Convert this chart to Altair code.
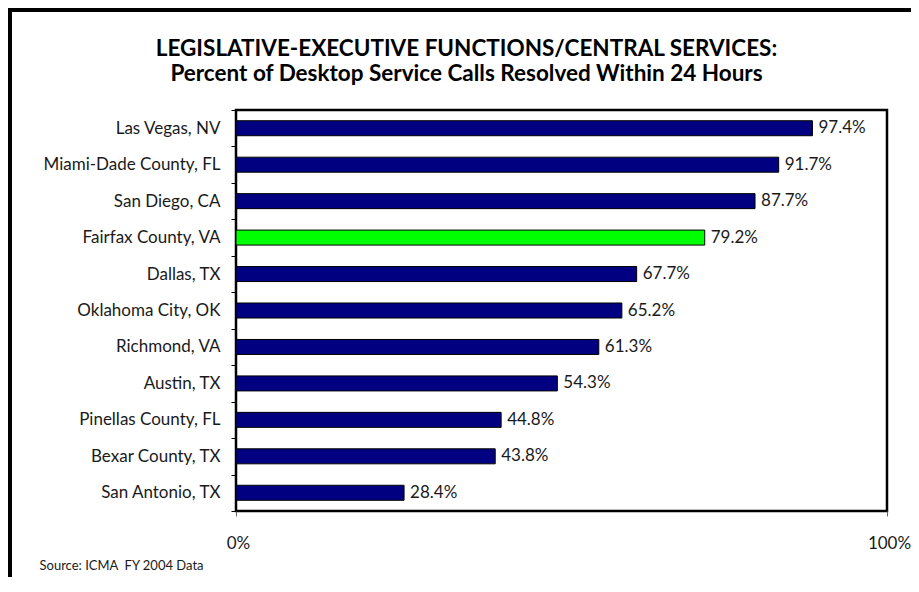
import altair as alt
import pandas as pd

cities = ["Las Vegas, NV", "Miami-Dade County, FL", "San Diego, CA", "Fairfax County, VA",
          "Dallas, TX", "Oklahoma City, OK", "Richmond, VA", "Austin, TX",
          "Pinellas County, FL", "Bexar County, TX", "San Antonio, TX"]
values = [97.4, 91.7, 87.7, 79.2, 67.7, 65.2, 61.3, 54.3, 44.8, 43.8, 28.4]
highlight_city = "Fairfax County, VA"
x_ticks = [0, 110]
x_tick_labels = ["0%", "100%"]
title_lines = ["LEGISLATIVE-EXECUTIVE FUNCTIONS/CENTRAL SERVICES:",
               "Percent of Desktop Service Calls Resolved Within 24 Hours"]
source_note = "Source: ICMA\u00a0 FY 2004 Data"

FONT = "Lato"

df = pd.DataFrame({"city": cities, "value": values})
df["label"] = [f"{v:.1f}%" for v in values]
df["hl"] = [c == highlight_city for c in cities]

label_expr = "datum.value == 0 ? '{}' : '{}'".format(*x_tick_labels)

y_enc = alt.Y("city:N", sort=cities, scale=alt.Scale(paddingInner=0, paddingOuter=0),
              axis=alt.Axis(title=None, labelFont=FONT, labelFontSize=17, labelColor="#1a1a1a",
                            labelPadding=11, tickSize=5, tickColor="black", tickWidth=1,
                            tickBand="extent", domain=False, grid=False, labelLimit=300))
x_enc = alt.X("value:Q", scale=alt.Scale(domain=[x_ticks[0], x_ticks[1]], nice=False, zero=True),
              axis=alt.Axis(values=x_ticks, labelExpr=label_expr, labelFont=FONT, labelFontSize=17,
                            labelColor="#1a1a1a", labelPadding=19, labelOffset=2, tickSize=5,
                            tickColor="#666", domain=False, grid=False, labelFlush=False,
                            title=source_note, titleFont=FONT, titleFontSize=13,
                            titleFontWeight="normal", titleColor="#1a1a1a", titleAlign="left",
                            titleAnchor="start", titleBaseline="alphabetic",
                            titleX=-197, titleY=58))

bars = alt.Chart(df).mark_bar(size=15, stroke="black", strokeWidth=1).encode(
    x=x_enc,
    y=y_enc,
    color=alt.condition("datum.hl", alt.value("#00FF00"), alt.value("#000080")),
)

texts = alt.Chart(df).mark_text(align="left", baseline="middle", dx=6, font=FONT,
                                fontSize=17, color="#1a1a1a").encode(
    x=alt.X("value:Q"),
    y=alt.Y("city:N", sort=cities),
    text="label:N",
)

one = pd.DataFrame({"k": [0]})
border_left = alt.Chart(one).mark_rule(color="black", strokeWidth=4).encode(
    x=alt.value(-226), y=alt.value(-102), y2=alt.value(480))
border_top = alt.Chart(one).mark_rule(color="black", strokeWidth=4).encode(
    x=alt.value(-228), x2=alt.value(675), y=alt.value(-100))

chart = alt.layer(bars, texts, border_left, border_top).properties(
    width=651, height=401,
    title=alt.TitleParams(text=title_lines, anchor="middle", frame="group", dx=-95,
                          offset=0, dy=79, font=FONT, fontSize=22.5, fontWeight="bold",
                          color="black", lineHeight=25),
    padding={"left": 228, "top": 102, "right": 24, "bottom": 66},
    autosize=alt.AutoSizeParams(type="none"),
    view=alt.ViewBackground(stroke="#000000", strokeWidth=2.5, strokeOpacity=1),
).configure(background="white")

chart.save("out.html", embed_options={"renderer": "svg", "actions": False})
